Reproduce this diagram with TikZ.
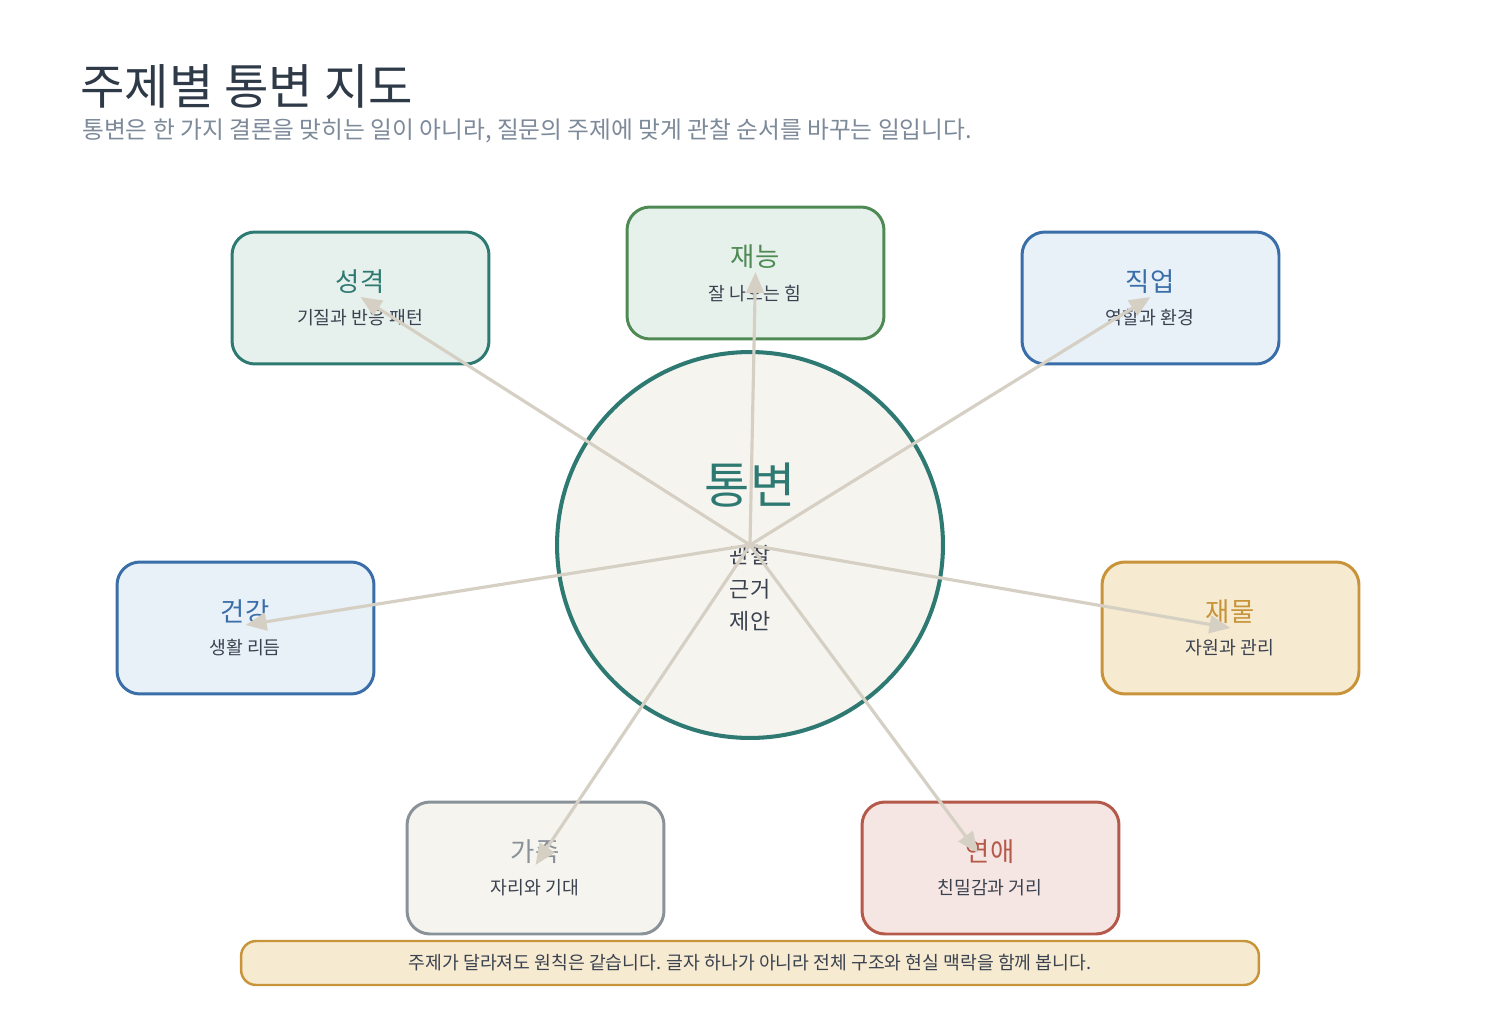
\documentclass[tikz,border=0pt]{standalone}
\usepackage{fontspec}
\setmainfont{Noto Sans CJK KR}
\usetikzlibrary{arrows.meta}
\definecolor{titlec}{HTML}{2F3A48}
\definecolor{subc}{HTML}{7D8A9A}
\definecolor{txtc}{HTML}{3A4250}
\definecolor{tealc}{HTML}{2E7A72}
\definecolor{greenc}{HTML}{4F8A55}
\definecolor{bluec}{HTML}{3A6EA8}
\definecolor{goldc}{HTML}{C8943A}
\definecolor{grayc}{HTML}{8A9299}
\definecolor{redc}{HTML}{B55A4A}
\definecolor{tealf}{HTML}{E6F1ED}
\definecolor{greenf}{HTML}{E7F1EC}
\definecolor{bluef}{HTML}{E8F0F8}
\definecolor{goldf}{HTML}{F6EAD0}
\definecolor{grayf}{HTML}{F6F4EF}
\definecolor{redf}{HTML}{F6E6E3}
\definecolor{arrc}{HTML}{D6D0C4}
\begin{document}
\begin{tikzpicture}[x=0.02cm,y=-0.02cm,
  topicbox/.style={draw, rectangle, rounded corners=0.46cm, line width=1.7pt,
    minimum width=5.14cm, minimum height=2.64cm, inner sep=0pt},
  ttl/.style={font=\fontsize{15}{17}\selectfont, inner sep=0pt},
  sub/.style={font=\fontsize{10.4}{12}\selectfont, text=txtc, inner sep=0pt},
  ray/.style={draw=arrc, line width=1.8pt, -{Triangle[length=12pt,width=10pt]}}]
\useasboundingbox (0,0) rectangle (1500,1020);
\fill[white] (0,0) rectangle (1500,1020);

\node[anchor=base west, inner sep=0pt, text=titlec, font=\fontsize{27.5}{32}\selectfont] (title) at (80,105) {주제별 통변 지도};
\node[anchor=base west, inner sep=0pt, text=subc, font=\fontsize{13.5}{16}\selectfont] (subtitle) at (82,139) {통변은 한 가지 결론을 맞히는 일이 아니라, 질문의 주제에 맞게 관찰 순서를 바꾸는 일입니다.};

% center
\node[draw=tealc, fill=grayf, circle, line width=2.3pt, minimum size=7.72cm, inner sep=0pt] (c) at (750,545) {};
\node[text=tealc, font=\fontsize{28}{32}\selectfont, inner sep=0pt] (ct) at (750,485) {통변};
\node[text=txtc, font=\fontsize{12.5}{14}\selectfont, inner sep=0pt] (c1) at (750,555) {관찰};
\node[text=txtc, font=\fontsize{12.5}{14}\selectfont, inner sep=0pt] (c2) at (750,589) {근거};
\node[text=txtc, font=\fontsize{12.5}{14}\selectfont, inner sep=0pt] (c3) at (750,621) {제안};

% boxes
\node[topicbox, draw=tealc, fill=tealf] (b1) at (360.5,298) {};
\node[ttl, text=tealc] (b1t) at (360,282) {성격};
\node[sub] (b1s) at (360,318) {기질과 반응 패턴};

\node[topicbox, draw=greenc, fill=greenf] (b2) at (755.5,273) {};
\node[ttl, text=greenc] (b2t) at (755,257) {재능};
\node[sub] (b2s) at (755,294) {잘 나오는 힘};

\node[topicbox, draw=bluec, fill=bluef] (b3) at (1150.5,298) {};
\node[ttl, text=bluec] (b3t) at (1150,282) {직업};
\node[sub] (b3s) at (1150,318) {역할과 환경};

\node[topicbox, draw=bluec, fill=bluef] (b4) at (245.5,628) {};
\node[ttl, text=bluec] (b4t) at (245,612) {건강};
\node[sub] (b4s) at (245,648) {생활 리듬};

\node[topicbox, draw=goldc, fill=goldf] (b5) at (1230.5,628) {};
\node[ttl, text=goldc] (b5t) at (1230,612) {재물};
\node[sub] (b5s) at (1230,648) {자원과 관리};

\node[topicbox, draw=grayc, fill=grayf] (b6) at (535.5,868) {};
\node[ttl, text=grayc] (b6t) at (535,852) {가족};
\node[sub] (b6s) at (535,888) {자리와 기대};

\node[topicbox, draw=redc, fill=redf] (b7) at (990.5,868) {};
\node[ttl, text=redc] (b7t) at (990,852) {연애};
\node[sub] (b7s) at (990,888) {친밀감과 거리};

% banner
\node[draw=goldc, fill=goldf, rectangle, rounded corners=0.3cm, line width=1.4pt,
  minimum width=20.36cm, minimum height=0.88cm, inner sep=0pt,
  font=\fontsize{10.4}{12}\selectfont, text=txtc] (banner) at (750,963) {주제가 달라져도 원칙은 같습니다. 글자 하나가 아니라 전체 구조와 현실 맥락을 함께 봅니다.};

% rays
\draw[ray] (c.center) -- ([yshift=0.02cm]b1.center);
\draw[ray] (c.center) -- ([yshift=0.02cm]b2.center);
\draw[ray] (c.center) -- ([yshift=0.02cm]b3.center);
\draw[ray] (c.center) -- ([yshift=0.06cm]b4.center);
\draw[ray] (c.center) -- (b5.center);
\draw[ray] (c.center) -- ([yshift=0.06cm]b6.center);
\draw[ray] (c.center) -- ([yshift=0.3cm,xshift=-0.25cm]b7.center);
\end{tikzpicture}
\end{document}
